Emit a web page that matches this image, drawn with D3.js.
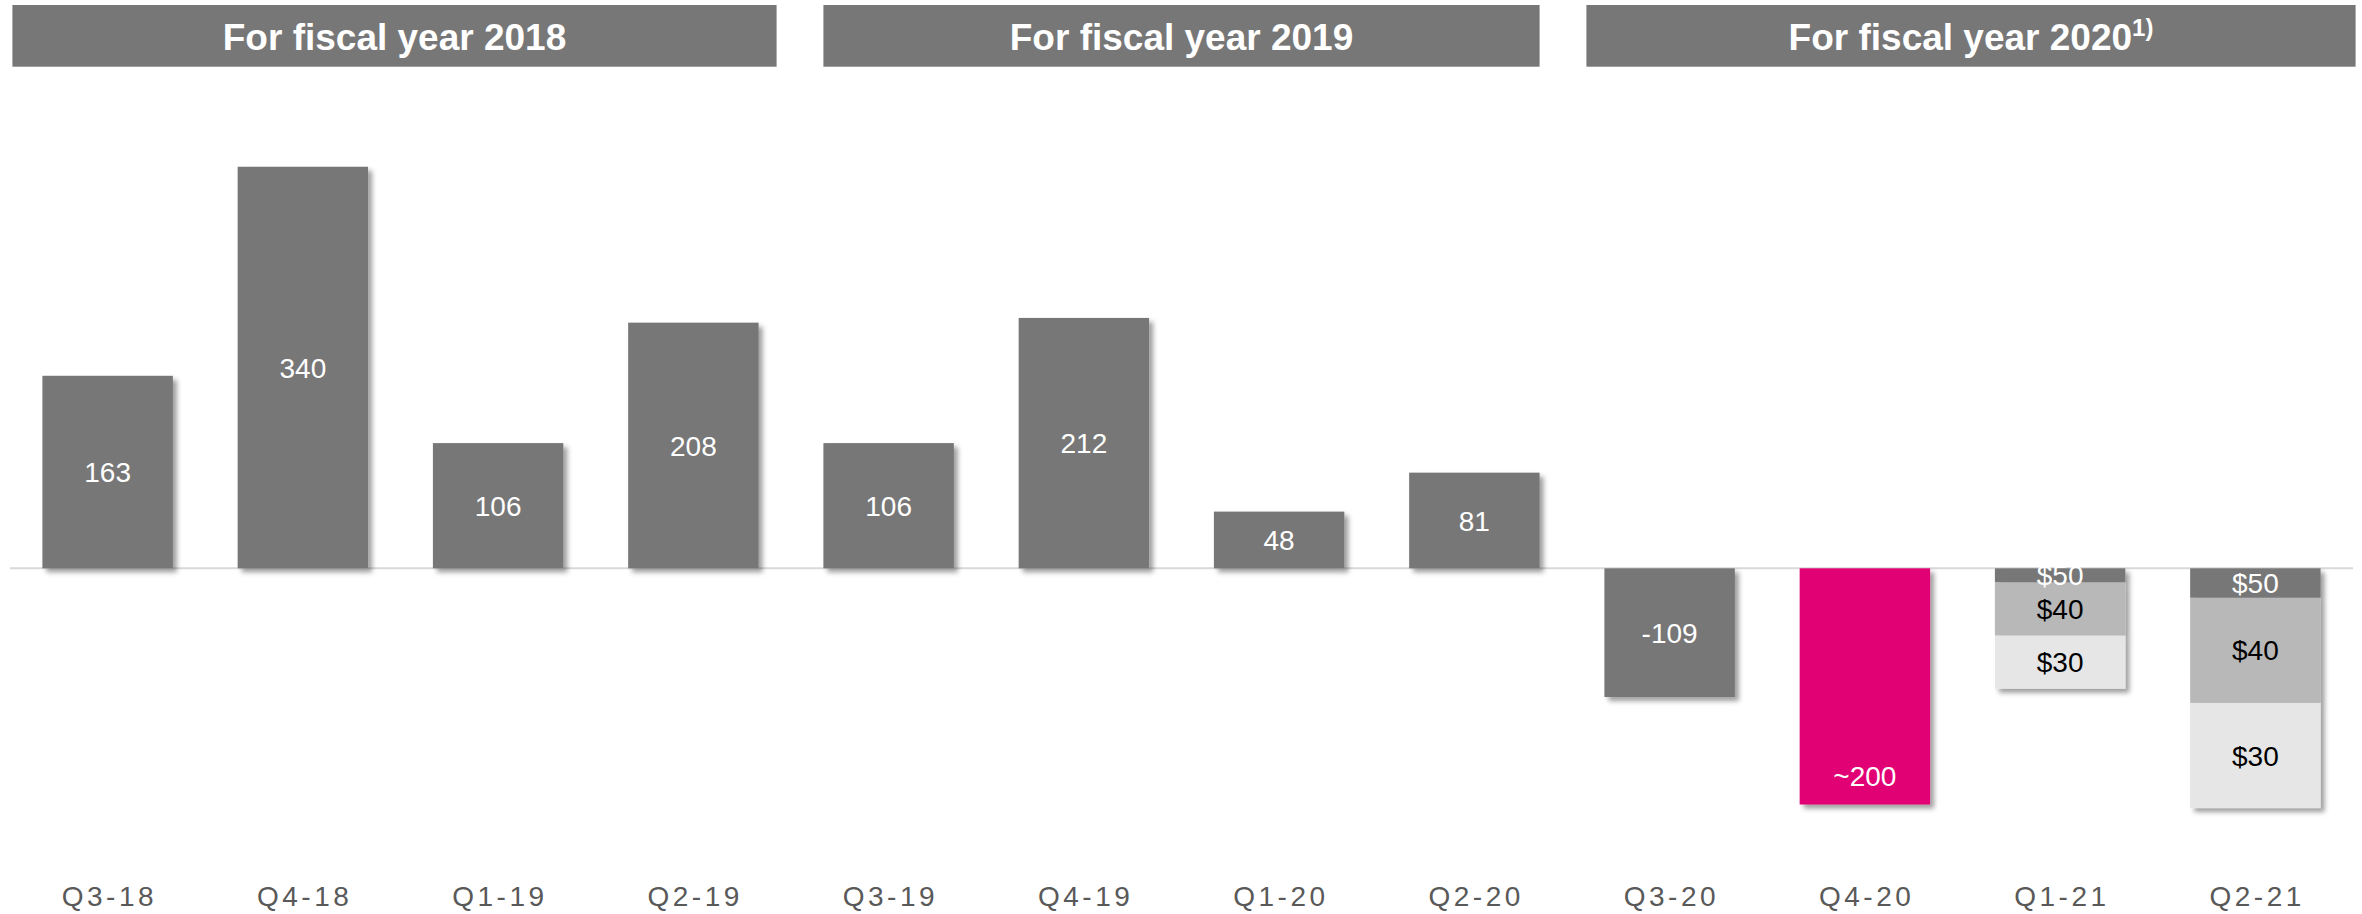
<!DOCTYPE html>
<html>
<head>
<meta charset="utf-8">
<script src="https://cdn.jsdelivr.net/npm/d3@7"></script>
<style>
  html, body { margin: 0; padding: 0; background: #ffffff; }
  svg { display: block; }
</style>
</head>
<body>
<svg id="chart" width="2362" height="914"></svg>
<script>
// Quarterly results, grouped by fiscal year
const quarters = ["Q3-18", "Q4-18", "Q1-19", "Q2-19", "Q3-19", "Q4-19", "Q1-20", "Q2-20", "Q3-20", "Q4-20", "Q1-21", "Q2-21"];
const reported = [163, 340, 106, 208, 106, 212, 48, 81, -109, null, null, null];
const reportedLabels = ["163", "340", "106", "208", "106", "212", "48", "81", "-109", null, null, null];

// Current-quarter estimate (highlighted)
const estimateQuarter = "Q4-20";
const estimateValue = -200;
const estimateLabel = "~200";

// Price-scenario outlook, stacked downward from zero
const scenarioQuarters = ["Q1-21", "Q2-21"];
const scenarioNames = ["$50", "$40", "$30"];
const scenario50 = [-12, -25];
const scenario40 = [-45, -89];
const scenario30 = [-45, -89];

// Fiscal-year headers
const yearTitles = ["For fiscal year 2018", "For fiscal year 2019", "For fiscal year 2020"];
const yearNotes = ["", "", "1)"];
const yearFirst = ["Q3-18", "Q3-19", "Q3-20"];
const yearLast = ["Q2-19", "Q2-20", "Q2-21"];

// ---- layout ----
const font = "'Liberation Sans', Arial, Helvetica, sans-serif";
const grey = "#777777";
const magenta = "#E20074";
const scenarioFill = { "$50": "#777777", "$40": "#b8b8b8", "$30": "#e6e6e6" };
const scenarioText = { "$50": "#ffffff", "$40": "#000000", "$30": "#000000" };
const headerPadLeft = [30, 0, 18];
const headerPadRight = [18, 0, 35];

const svg = d3.select("#chart");

const x = d3.scaleBand()
  .domain(quarters)
  .range([10, 2353])
  .paddingInner(0.332)
  .paddingOuter(0.166);

const y = d3.scaleLinear()
  .domain([-220, 360])
  .range([568.3 + 220 * 1.181, 568.3 - 360 * 1.181]);

const bw = x.bandwidth();

// drop shadow for the bars
const defs = svg.append("defs");
const f = defs.append("filter").attr("id", "shadow")
  .attr("x", "-10%").attr("y", "-10%").attr("width", "130%").attr("height", "130%");
f.append("feDropShadow")
  .attr("dx", 4).attr("dy", 4).attr("stdDeviation", 2.5)
  .attr("flood-color", "#000").attr("flood-opacity", 0.38);

// fiscal-year header bands
const headers = svg.append("g");
yearTitles.forEach((title, i) => {
  const x0 = x(yearFirst[i]) - headerPadLeft[i];
  const x1 = x(yearLast[i]) + bw + headerPadRight[i];
  headers.append("rect")
    .attr("x", x0).attr("y", 5)
    .attr("width", x1 - x0).attr("height", 61.7)
    .attr("fill", grey);
  const t = headers.append("text")
    .attr("x", (x0 + x1) / 2).attr("y", 50)
    .attr("text-anchor", "middle")
    .attr("font-family", font).attr("font-weight", "bold")
    .attr("font-size", 37).attr("fill", "#ffffff");
  t.append("tspan").text(title);
  if (yearNotes[i]) {
    t.append("tspan").attr("font-size", 24).attr("dy", -14).text(yearNotes[i]);
  }
});

// zero line
svg.append("line")
  .attr("x1", x.range()[0]).attr("x2", x.range()[1])
  .attr("y1", y(0)).attr("y2", y(0))
  .attr("stroke", "#d9d9d9").attr("stroke-width", 2);

// reported quarters
const bars = svg.append("g");
quarters.forEach((q, i) => {
  const v = reported[i];
  if (v === null) return;
  bars.append("rect")
    .attr("x", x(q)).attr("width", bw)
    .attr("y", y(Math.max(0, v)))
    .attr("height", Math.abs(y(v) - y(0)))
    .attr("fill", grey)
    .attr("filter", "url(#shadow)");
});
quarters.forEach((q, i) => {
  const v = reported[i];
  if (v === null) return;
  bars.append("text")
    .attr("x", x(q) + bw / 2)
    .attr("y", (y(v) + y(0)) / 2)
    .attr("dy", "0.36em")
    .attr("text-anchor", "middle")
    .attr("font-family", font).attr("font-size", 28)
    .attr("fill", "#ffffff")
    .text(reportedLabels[i]);
});

// estimate
bars.append("rect")
  .attr("x", x(estimateQuarter)).attr("width", bw)
  .attr("y", y(0))
  .attr("height", y(estimateValue) - y(0))
  .attr("fill", magenta)
  .attr("filter", "url(#shadow)");
bars.append("text")
  .attr("x", x(estimateQuarter) + bw / 2)
  .attr("y", y(estimateValue) - 18.7)
  .attr("text-anchor", "middle")
  .attr("font-family", font).attr("font-size", 28)
  .attr("fill", "#ffffff")
  .text(estimateLabel);

// scenario stacks
const scenarioRows = scenarioQuarters.map((q, i) => ({
  quarter: q, "$50": scenario50[i], "$40": scenario40[i], "$30": scenario30[i]
}));
const stacked = d3.stack()
  .keys(scenarioNames)
  .offset(d3.stackOffsetDiverging)(scenarioRows);

const stackGroups = svg.append("g").selectAll("g")
  .data(scenarioRows.map((row, j) => ({ row, segs: stacked.map(s => ({ key: s.key, lo: s[j][0], hi: s[j][1] })) })))
  .join("g");

stackGroups.append("g")
  .attr("filter", "url(#shadow)")
  .selectAll("rect")
  .data(d => d.segs.map(s => ({ ...s, quarter: d.row.quarter })))
  .join("rect")
  .attr("x", d => x(d.quarter)).attr("width", bw)
  .attr("y", d => y(Math.max(d.lo, d.hi)))
  .attr("height", d => Math.abs(y(d.lo) - y(d.hi)))
  .attr("fill", d => scenarioFill[d.key]);

stackGroups.selectAll("text")
  .data(d => d.segs.map(s => ({ ...s, quarter: d.row.quarter })))
  .join("text")
  .attr("x", d => x(d.quarter) + bw / 2)
  .attr("y", d => (y(d.lo) + y(d.hi)) / 2)
  .attr("dy", "0.36em")
  .attr("text-anchor", "middle")
  .attr("font-family", font).attr("font-size", 28)
  .attr("fill", d => scenarioText[d.key])
  .text(d => d.key);

// quarter labels
svg.append("g").selectAll("text")
  .data(quarters)
  .join("text")
  .attr("x", d => x(d) + bw / 2 + 1.75)
  .attr("y", 906)
  .attr("text-anchor", "middle")
  .attr("font-family", font).attr("font-size", 28)
  .attr("letter-spacing", 3.5)
  .attr("fill", "#595959")
  .text(d => d);
</script>
</body>
</html>
